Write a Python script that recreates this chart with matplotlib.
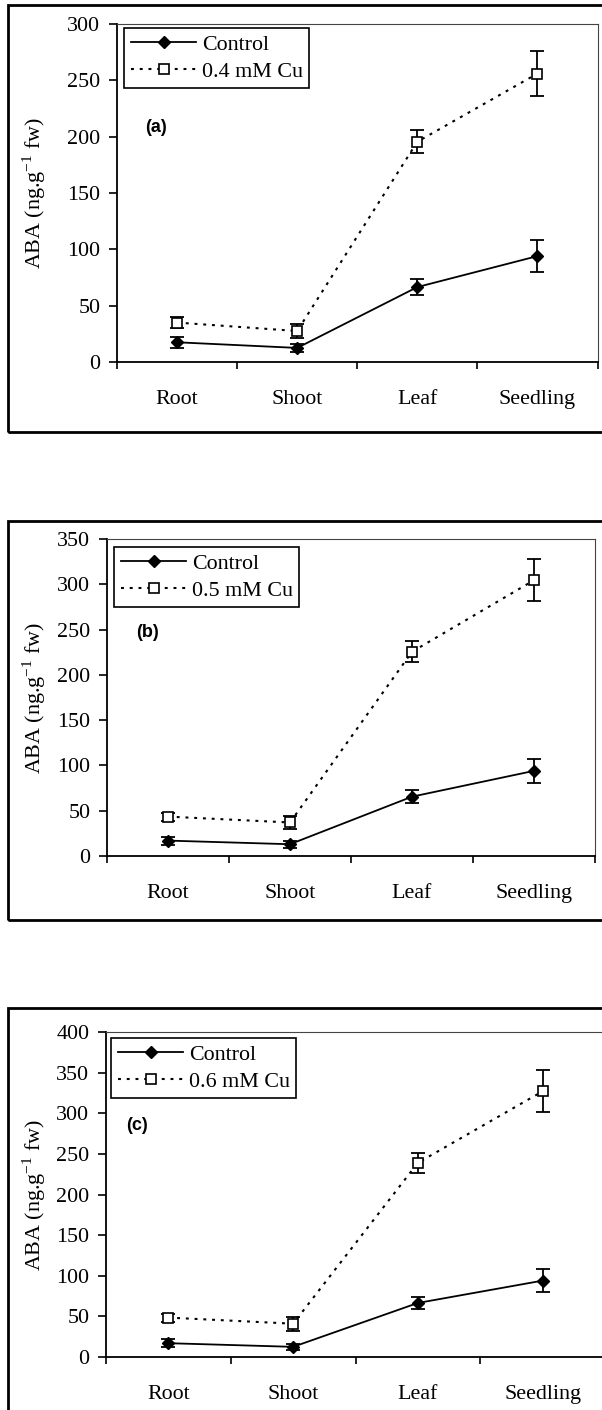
import numpy as np
import matplotlib
matplotlib.use('Agg')
import matplotlib.pyplot as plt
from matplotlib.patches import Rectangle

plt.rcParams['font.family'] = ['Liberation Serif', 'DejaVu Serif']
plt.rcParams['mathtext.fontset'] = 'custom'
plt.rcParams['mathtext.rm'] = 'Liberation Serif'

categories = ['Root', 'Shoot', 'Leaf', 'Seedling']

control_a = [17.5, 12.5, 66.5, 94]
control_a_err = [5, 3.5, 7, 14]
cu04 = [35, 27.5, 195.5, 256]
cu04_err = [4.5, 6, 10, 20]

control_b = [17, 13, 65.5, 94]
control_b_err = [4.5, 4, 7, 13.5]
cu05 = [43.5, 37, 225.5, 304.5]
cu05_err = [4.5, 7, 11.5, 23]

control_c = [17, 12.5, 66.5, 94]
control_c_err = [5, 4, 7, 14]
cu06 = [48.5, 41, 239, 327]
cu06_err = [5, 8.5, 12.5, 26]

W, H = 602, 1410
FS = 15.8
fig = plt.figure(figsize=(W / 100, H / 100), dpi=100)


def fbox(l, t, r, b):
    # pixel box (top-left origin) -> figure fraction rect
    return [l / W, 1 - b / H, (r - l) / W, (b - t) / H]


def panel(axpx, framepx, legpx, tagpx, ymax, ctrl, ctrl_err, cu, cu_err, culabel, tag):
    l, t, r, b = framepx
    fig.add_artist(Rectangle((l / W, 1 - b / H), (r - l) / W, (b - t) / H,
                             transform=fig.transFigure, fill=False,
                             edgecolor='black', linewidth=2.0, clip_on=False))
    ax = fig.add_axes(fbox(*axpx))
    x = np.arange(1, len(categories) + 1)

    ax.errorbar(x, ctrl, yerr=ctrl_err, fmt='none', ecolor='black',
                elinewidth=1.3, capsize=4.7, capthick=1.3, zorder=2)
    ax.errorbar(x, cu, yerr=cu_err, fmt='none', ecolor='black',
                elinewidth=1.3, capsize=4.7, capthick=1.3, zorder=2)
    ax.plot(x, ctrl, color='black', linewidth=1.3, marker='D', markersize=5.8,
            markerfacecolor='black', markeredgecolor='black', label='Control', zorder=3)
    ax.plot(x, cu, color='black', linewidth=1.5, linestyle=(0, (1.4, 2.8)),
            marker='s', markersize=6.5, markerfacecolor='white',
            markeredgecolor='black', markeredgewidth=1.2, label=culabel, zorder=3)

    ax.set_xlim(0.5, len(categories) + 0.5)
    ax.set_ylim(0, ymax)
    ax.set_yticks(np.arange(0, ymax + 1, 50))
    ax.set_xticks(np.arange(0.5, len(categories) + 1, 1.0))
    ax.set_xticklabels([])
    ax.set_xticks(x, minor=True)
    ax.set_xticklabels(categories, minor=True)
    ax.tick_params(axis='x', which='major', direction='out', length=5, width=1.2)
    ax.tick_params(axis='x', which='minor', length=0, pad=20, labelsize=FS)
    ax.tick_params(axis='y', direction='out', length=6, width=1.2, pad=6, labelsize=FS)

    for s in ['left', 'bottom']:
        ax.spines[s].set_linewidth(1.3)
        ax.spines[s].set_color('black')
    for s in ['top', 'right']:
        ax.spines[s].set_linewidth(0.8)
        ax.spines[s].set_color('#444444')

    ax.set_ylabel(r'ABA (ng.g$^{\mathregular{-1}}$ fw)', fontsize=FS)
    ax.yaxis.set_label_coords((48 - axpx[0]) / (axpx[2] - axpx[0]), 0.5)

    leg = ax.legend(loc='upper left', bbox_to_anchor=(legpx[0] / W, 1 - legpx[1] / H),
                    bbox_transform=fig.transFigure, borderaxespad=0, fontsize=FS,
                    handlelength=3.0, handletextpad=0.25, borderpad=0.3,
                    labelspacing=0.3, fancybox=False, framealpha=1, numpoints=1)
    leg.get_frame().set_edgecolor('black')
    leg.get_frame().set_linewidth(1.2)

    fig.text(tagpx[0] / W, 1 - tagpx[1] / H, tag, family='Liberation Sans',
             fontweight='bold', fontsize=13, ha='left', va='center')
    return ax


panel((117, 24, 597.5, 362), (8, 5, 640, 432), (124, 28), (145, 128),
      300, control_a, control_a_err, cu04, cu04_err, '0.4 mM Cu', '(a)')
panel((107, 539, 595, 856), (8, 521, 640, 920), (114, 547), (136, 633),
      350, control_b, control_b_err, cu05, cu05_err, '0.5 mM Cu', '(b)')
panel((106, 1032, 605, 1357), (8, 1008, 640, 1450), (111, 1038), (126, 1126),
      400, control_c, control_c_err, cu06, cu06_err, '0.6 mM Cu', '(c)')

plt.savefig('out.png', dpi=100)
